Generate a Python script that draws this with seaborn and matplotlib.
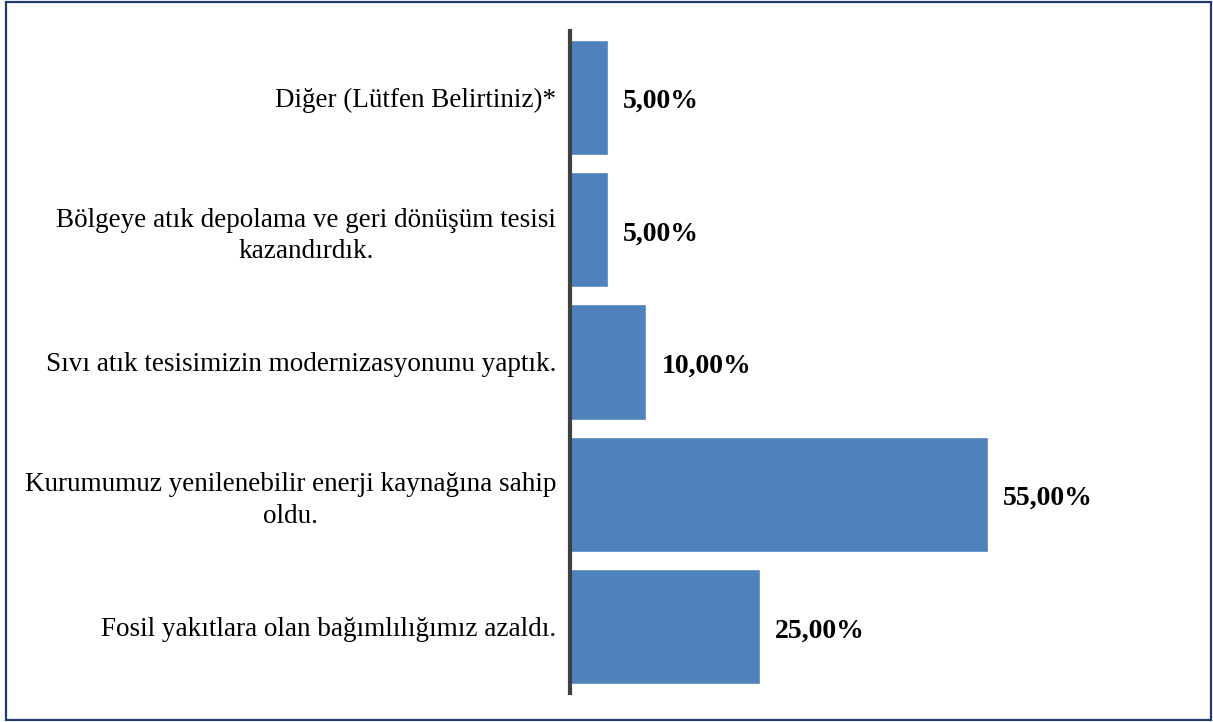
import pandas as pd
import matplotlib.pyplot as plt
import seaborn as sns
from matplotlib.patches import Rectangle

# Veriler (yukarıdan aşağıya)
kategoriler = [
    "Diğer (Lütfen Belirtiniz)*",
    "Bölgeye atık depolama ve geri dönüşüm tesisi\nkazandırdık.",
    "Sıvı atık tesisimizin modernizasyonunu yaptık.",
    "Kurumumuz yenilenebilir enerji kaynağına sahip\noldu.",
    "Fosil yakıtlara olan bağımlılığımız azaldı.",
]
yuzdeler = [5, 5, 10, 55, 25]
etiketler = ["5,00%", "5,00%", "10,00%", "55,00%", "25,00%"]

df = pd.DataFrame({"Kategori": kategoriler, "Yuzde": yuzdeler})

sns.set_theme(style="white")
plt.rcParams['font.family'] = ['Liberation Serif', 'DejaVu Serif']
plt.rcParams['text.color'] = 'black'
plt.rcParams['ytick.color'] = 'black'

fig = plt.figure(figsize=(12.13, 7.22), dpi=100)
ax = fig.add_axes([570 / 1213, 1 - 693 / 722, 1 - 570 / 1213, (693 - 31) / 722])

sns.barplot(data=df, x="Yuzde", y="Kategori", orient="h", color="#4F81BD",
            saturation=1, width=0.87, ax=ax)

ax.set_xlim(0, (1213 - 570) / 7.6)
ax.set_ylim(4.5, -0.5)
ax.set_xlabel("")
ax.set_ylabel("")
ax.set_xticks([])
ax.tick_params(axis='y', length=0, pad=10, labelsize=19.5, labelcolor='black')
for lbl in ax.get_yticklabels():
    lbl.set_multialignment('center')
    lbl.set_linespacing(1.35)

for s in ['top', 'right', 'bottom']:
    ax.spines[s].set_visible(False)
ax.spines['left'].set_color('#404040')
ax.spines['left'].set_linewidth(3)

# Değer etiketleri
for i, (v, t) in enumerate(zip(yuzdeler, etiketler)):
    ax.annotate(t, xy=(v, i), xytext=(11, -3), textcoords='offset points',
                ha='left', va='center', fontsize=20, fontweight='bold',
                color='black')

# Çerçeve
fig.patches.append(Rectangle((6 / 1213, 2 / 722), 1205 / 1213, 718 / 722,
                             transform=fig.transFigure, fill=False,
                             edgecolor='#1F3B70', linewidth=1.6))

plt.savefig('out.png', dpi=100)
